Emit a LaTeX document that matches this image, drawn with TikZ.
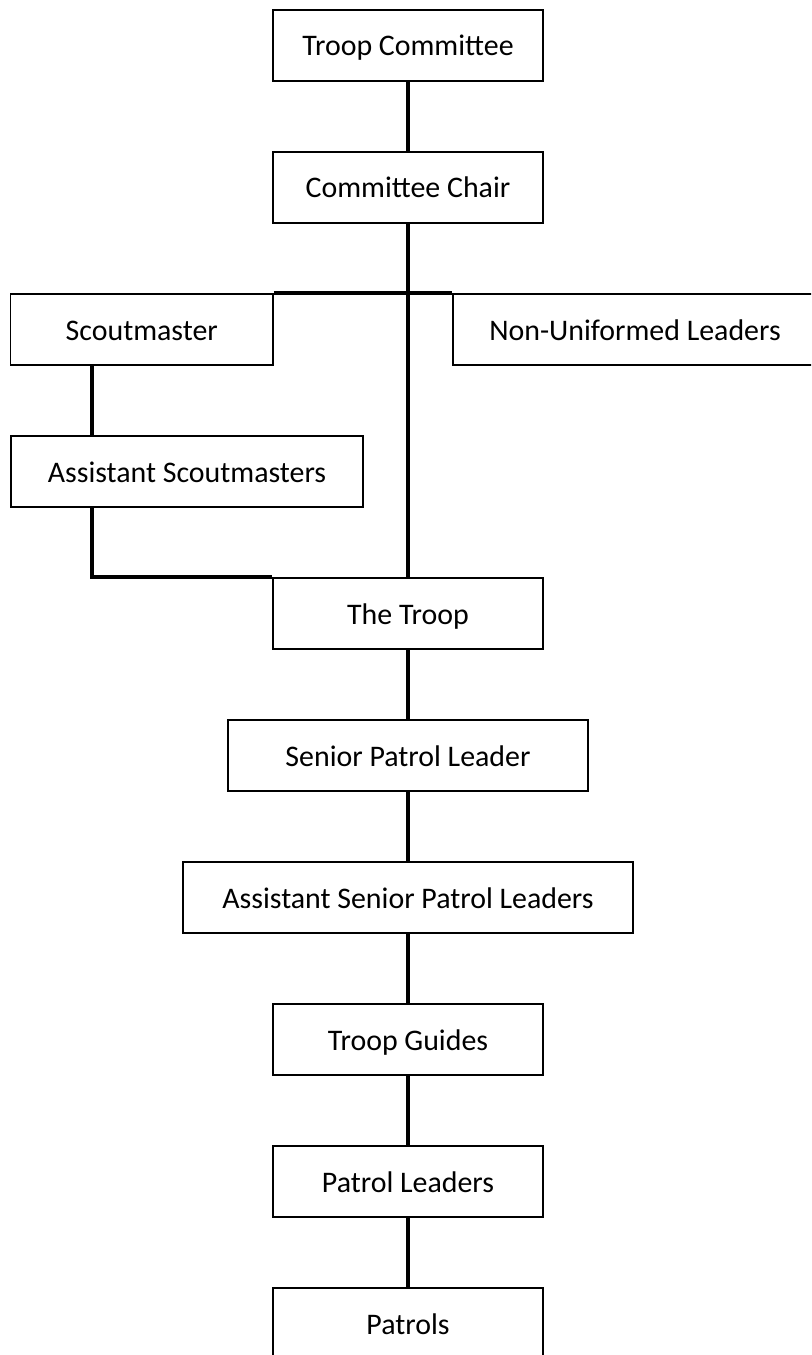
\documentclass[tikz,border=0pt]{standalone}
\usepackage{fontspec}
\setmainfont{Carlito}
\begin{document}
\begin{tikzpicture}[x=1bp,y=-1bp,
  box/.style={draw, line width=1.9bp, minimum height=71bp, inner sep=0pt,
    text height=21bp, text depth=0bp, font=\fontsize{30}{33}\selectfont},
  conn/.style={line width=4.6bp}]
\clip (0,0) rectangle (811,1355);
\node[box, minimum width=270bp] (tc) at (408,45.5) {Troop Committee};
\node[box, minimum width=270bp] (cc) at (408,187.5) {Committee Chair};
\node[box, minimum width=262.5bp] (sm) at (141.75,329.5) {Scoutmaster};
\node[box, minimum width=400bp] (nul) at (653,329.5) {Non-Uniformed Leaders\hspace*{36bp}};
\node[box, minimum width=352bp] (asm) at (187,471.5) {Assistant Scoutmasters};
\node[box, minimum width=270bp] (troop) at (408,613.5) {The Troop};
\node[box, minimum width=360bp] (spl) at (408,755.5) {Senior Patrol Leader};
\node[box, minimum width=450bp] (aspl) at (408,897.5) {Assistant Senior Patrol Leaders};
\node[box, minimum width=270bp] (tg) at (408,1039.5) {Troop Guides};
\node[box, minimum width=270bp] (pl) at (408,1181.5) {Patrol Leaders};
\node[box, minimum width=270bp] (pat) at (408,1323.5) {Patrols};
\coordinate (smx) at (92,0);
\draw[conn] (tc.south) -- (cc.north);
\draw[conn] (cc.south) -- (troop.north);
\draw[conn] (sm.north east) -- (nul.north west);
\draw[conn] (sm.south -| smx) -- (asm.north -| smx);
\draw[conn] (asm.south -| smx) |- (troop.north west);
\draw[conn] (troop.south) -- (spl.north);
\draw[conn] (spl.south) -- (aspl.north);
\draw[conn] (aspl.south) -- (tg.north);
\draw[conn] (tg.south) -- (pl.north);
\draw[conn] (pl.south) -- (pat.north);
\end{tikzpicture}
\end{document}
